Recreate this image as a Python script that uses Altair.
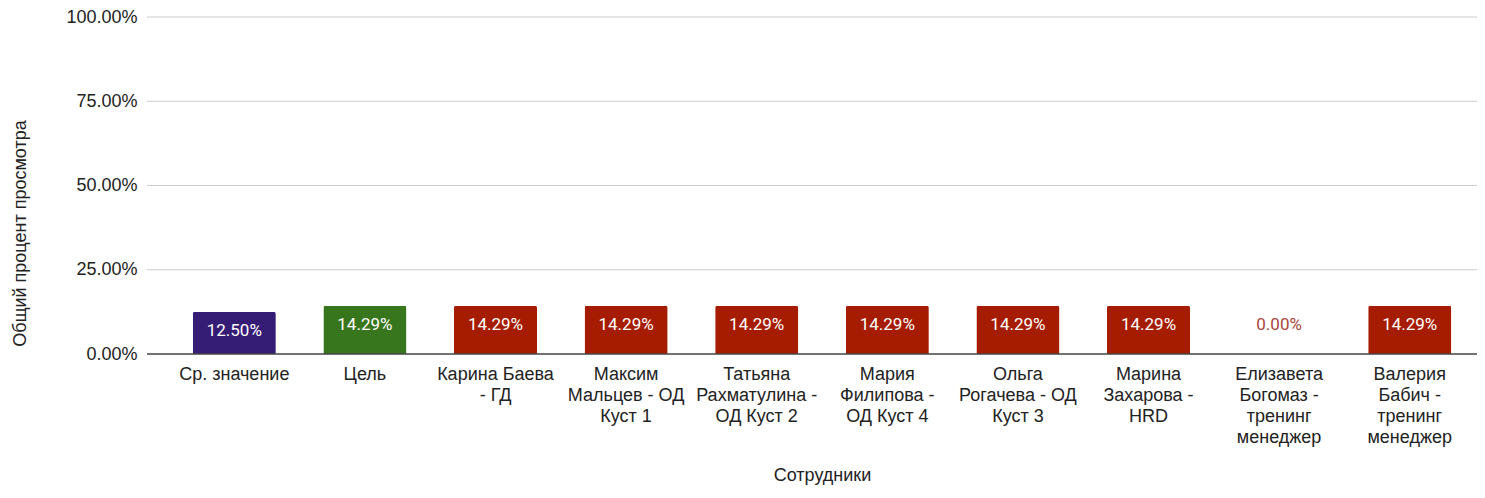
import altair as alt
import pandas as pd

# ---- data ----
labels = [
    "Ср. значение",
    "Цель",
    "Карина Баева|- ГД",
    "Максим|Мальцев - ОД|Куст 1",
    "Татьяна|Рахматулина -|ОД Куст 2",
    "Мария|Филипова -|ОД Куст 4",
    "Ольга|Рогачева - ОД|Куст 3",
    "Марина|Захарова -|HRD",
    "Елизавета|Богомаз -|тренинг|менеджер",
    "Валерия|Бабич -|тренинг|менеджер",
]
values = [0.125, 0.1429, 0.1429, 0.1429, 0.1429, 0.1429, 0.1429, 0.1429, 0.0, 0.1429]
groups = ["avg", "target", "emp", "emp", "emp", "emp", "emp", "emp", "emp", "emp"]
y_ticks = [0.0, 0.25, 0.5, 0.75, 1.0]

group_domain = ["avg", "target", "emp"]
group_colors = ["#351c75", "#38761d", "#a61c00"]

df = pd.DataFrame({"name": labels, "value": values, "group": groups})
grid_df = pd.DataFrame({"v": y_ticks[1:]})
base_df = pd.DataFrame({"v": [0.0]})

W = 1290
H = 337
FONT = "Liberation Sans"
FS = 18

x_enc = alt.X(
    "name:N",
    sort=labels,
    scale=alt.Scale(paddingInner=0.364, paddingOuter=0.1206),
    axis=alt.Axis(
        title="Сотрудники",
        labelExpr="split(datum.label, '|')",
        labelAngle=0,
        labelFont=FONT,
        labelFontSize=FS,
        labelColor="#222222",
        labelLineHeight=21,
        labelBaseline="top",
        labelPadding=11,
        labelLimit=400,
        ticks=False,
        domain=False,
        titleFont=FONT,
        titleFontSize=FS,
        titleFontWeight="normal",
        titleColor="#222222",
        titleY=121,
        titleBaseline="middle",
    ),
)

y_scale = alt.Scale(domain=[0, 1], nice=False)

grid = alt.Chart(grid_df).mark_rule(color="#cccccc", strokeWidth=1).encode(
    y=alt.Y("v:Q", scale=y_scale),
    x=alt.value(-30),
    x2=alt.value(W + 20),
)

bars = alt.Chart(df).mark_bar(cornerRadiusTopLeft=2, cornerRadiusTopRight=2).encode(
    x=x_enc,
    y=alt.Y(
        "value:Q",
        scale=y_scale,
        axis=alt.Axis(
            values=y_ticks,
            format=".2%",
            grid=False,
            ticks=False,
            domain=False,
            labelFont=FONT,
            labelFontSize=FS,
            labelColor="#222222",
            labelPadding=40,
            title="Общий процент просмотра",
            titleFont=FONT,
            titleFontSize=FS,
            titleFontWeight="normal",
            titleColor="#222222",
            titleAngle=270,
            titleAlign="center",
            titleBaseline="middle",
            titleX=-157,
            titleY=216,
        ),
    ),
    color=alt.Color(
        "group:N",
        scale=alt.Scale(domain=group_domain, range=group_colors),
        legend=None,
    ),
)

labels_in = alt.Chart(df).transform_filter("datum.value > 0").mark_text(
    font="Roboto", fontSize=17, color="white", baseline="middle", dy=19
).encode(
    x=alt.X("name:N", sort=labels),
    y=alt.Y("value:Q", scale=y_scale),
    text=alt.Text("value:Q", format=".2%"),
)

labels_zero = alt.Chart(df).transform_filter("datum.value <= 0").mark_text(
    font="Roboto", fontSize=17, color="#a8463b", baseline="middle", dy=-29
).encode(
    x=alt.X("name:N", sort=labels),
    y=alt.Y("value:Q", scale=y_scale),
    text=alt.Text("value:Q", format=".2%"),
)

baseline = alt.Chart(base_df).mark_rule(color="#444444", strokeWidth=1.5).encode(
    y=alt.Y("v:Q", scale=y_scale),
    x=alt.value(-30),
    x2=alt.value(W + 20),
)

chart = alt.layer(grid, bars, labels_in, labels_zero, baseline).properties(
    width=W,
    height=H,
    autosize=alt.AutoSizeParams(type="none"),
    padding={"left": 169, "top": 9, "right": 10, "bottom": 136},
).configure_view(stroke=None)

chart.save("out.html", embed_options={"renderer": "svg", "actions": False})
